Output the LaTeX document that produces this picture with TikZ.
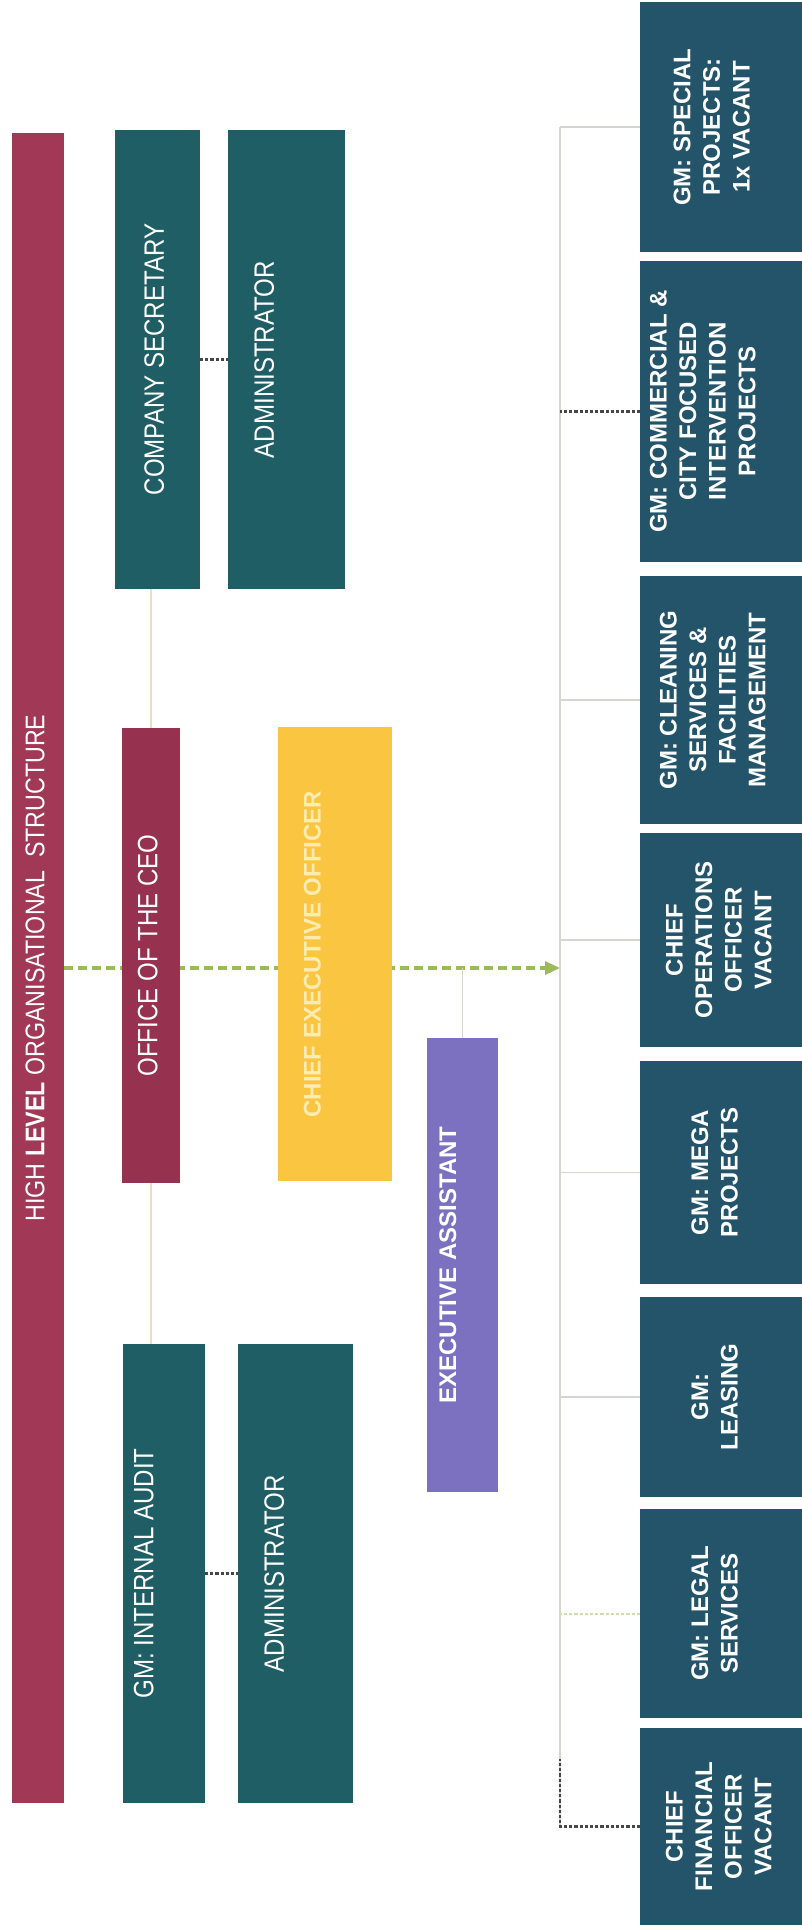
\documentclass[tikz,border=0pt]{standalone}
\usepackage{fontspec}
\usepackage{graphicx}
\setmainfont{Liberation Sans}
\newfontfamily\narrowfont{Liberation Sans}[FakeStretch=0.86]
\usetikzlibrary{arrows.meta,backgrounds}

\definecolor{orgmaroon}{RGB}{160,56,86}
\definecolor{orgoffice}{RGB}{150,50,80}
\definecolor{orgteal}{RGB}{32,94,102}
\definecolor{orgblue}{RGB}{36,84,106}
\definecolor{orgyellow}{RGB}{250,198,66}
\definecolor{orgpurple}{RGB}{124,112,192}
\definecolor{orggreen}{RGB}{155,187,89}
\definecolor{orgline}{RGB}{214,214,208}
\definecolor{orgcream}{RGB}{228,226,196}
\definecolor{orgdots}{RGB}{70,70,70}

% rotated multi-line label, optional shift to the left
\newcommand{\vtext}[2][0pt]{\rotatebox{90}{\begin{tabular}{@{}c@{}}#2\end{tabular}}\hspace*{#1}}

\tikzset{
  orgbox/.style={rectangle, inner sep=0pt, outer sep=0pt, text=white},
  leftbox/.style={orgbox, fill=orgteal, font=\narrowfont\fontsize{14}{16}\selectfont},
  rightbox/.style={orgbox, fill=orgblue, minimum width=81pt, font=\bfseries\fontsize{12}{14.8}\selectfont},
  conn/.style={orgline, line width=0.6pt},
  dotconn/.style={orgdots, line width=1.4pt, dash pattern=on 1.6pt off 1pt},
  ceoline/.style={orggreen, line width=1.6pt, dash pattern=on 4.5pt off 2.5pt, -{Triangle[length=7.5pt,width=6.5pt]}}
}

\begin{document}
\begin{tikzpicture}[x=0.5pt,y=-0.5pt]
  \useasboundingbox (0,0) rectangle (802,1929);

  % Nodes
  \node (title) at (38,968) [orgbox, fill=orgmaroon, minimum width=26pt, minimum height=835pt,
    font=\narrowfont\fontsize{13.5}{16}\selectfont]
    {\vtext{HIGH {\bfseries LEVEL} ORGANISATIONAL\ \ STRUCTURE}};

  \node (secretary) at (157.5,359.5) [leftbox, minimum width=42.5pt, minimum height=229.5pt] {\vtext{COMPANY SECRETARY}};
  \node (admintop) at (286.5,359.5) [leftbox, minimum width=58.5pt, minimum height=229.5pt] {\vtext[19pt]{ADMINISTRATOR}};

  \node (office) at (151,955.5) [leftbox, fill=orgoffice, minimum width=29pt, minimum height=227.5pt] {\vtext{OFFICE OF THE CEO}};
  \node (ceo) at (335,954) [orgbox, fill=orgyellow, minimum width=57pt, minimum height=227pt,
    text={rgb,255:red,253;green,236;blue,178}, font=\bfseries\fontsize{12}{14}\selectfont]
    {\vtext[20pt]{CHIEF EXECUTIVE OFFICER}};
  \node (assistant) at (462.5,1265) [orgbox, fill=orgpurple, minimum width=35.5pt, minimum height=227pt,
    font=\bfseries\fontsize{12}{14}\selectfont] {\vtext[12pt]{EXECUTIVE ASSISTANT}};

  \node (audit) at (164,1573.5) [leftbox, minimum width=41pt, minimum height=229.5pt] {\vtext[17pt]{GM: INTERNAL AUDIT}};
  \node (adminbot) at (295.5,1573.5) [leftbox, minimum width=57.5pt, minimum height=229.5pt] {\vtext[18pt]{ADMINISTRATOR}};

  \node (special) at (721,127) [rightbox, minimum height=125pt] {\vtext[7pt]{GM: SPECIAL\\PROJECTS:\\1x VACANT}};
  \node (commercial) at (721,411.5) [rightbox, minimum height=150.5pt] {\vtext[16pt]{GM: COMMERCIAL \&\\CITY FOCUSED\\INTERVENTION\\PROJECTS}};
  \node (cleaning) at (721,700) [rightbox, minimum height=124pt] {\vtext[6pt]{GM: CLEANING\\SERVICES \&\\FACILITIES\\MANAGEMENT}};
  \node (coo) at (721,940) [rightbox, minimum height=107pt] {\vtext{CHIEF\\OPERATIONS\\OFFICER\\VACANT}};
  \node (mega) at (721,1172.5) [rightbox, minimum height=111.5pt] {\vtext[4pt]{GM: MEGA\\PROJECTS}};
  \node (leasing) at (721,1397) [rightbox, minimum height=100pt] {\vtext[4pt]{GM:\\LEASING}};
  \node (legal) at (721,1613.5) [rightbox, minimum height=104.5pt] {\vtext[4pt]{GM: LEGAL\\SERVICES}};
  \node (cfo) at (721,1826.5) [rightbox, minimum height=98.5pt] {\vtext{CHIEF\\FINANCIAL\\OFFICER\\VACANT}};

  \coordinate (spine) at (560,0);

  % Edges
  \begin{scope}[on background layer]
    \draw[ceoline] (title.east) -- (title.east -| spine);
    \draw[orgcream, line width=0.6pt] (office.north) -- (office.north |- secretary.south);
    \draw[orgcream, line width=0.6pt] (office.south) -- (office.south |- audit.north);
    \draw[conn] (assistant.north) -- (assistant.north |- title.east);
    \draw[dotconn] (secretary) -- (admintop);
    \draw[dotconn] (audit) -- (adminbot);

    \draw[conn] (special.west -| spine) -- (cfo.west -| spine);
    \foreach \n in {special, cleaning, coo, mega, leasing}
      \draw[conn] (\n.west) -- (\n.west -| spine);
    \draw[orggreen!50, line width=1pt, dash pattern=on 1.6pt off 1pt] (legal.west) -- (legal.west -| spine);
    \draw[dotconn] (commercial.west) -- (commercial.west -| spine);
    \draw[dotconn] (cfo.west) -- (cfo.west -| spine) -- ++(0,-68);
  \end{scope}
\end{tikzpicture}
\end{document}
